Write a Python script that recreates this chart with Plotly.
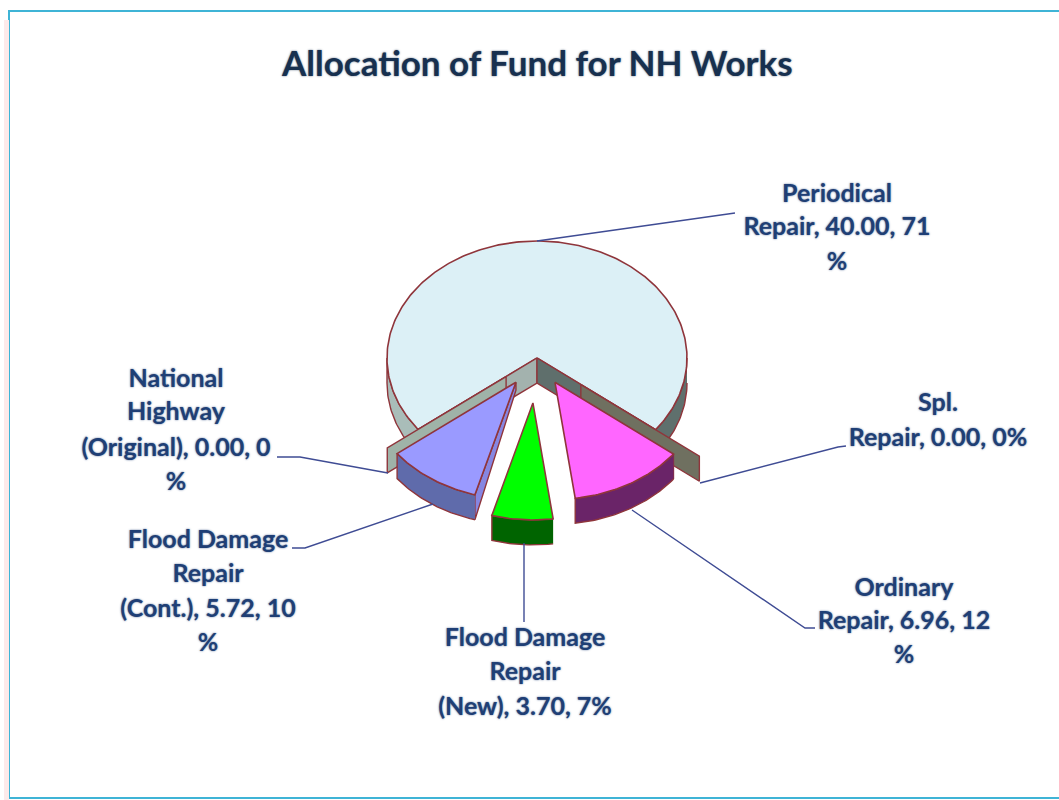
import numpy as np
import plotly.graph_objects as go

# ---- data ----
categories = ["Periodical Repair", "Spl. Repair", "Ordinary Repair",
              "Flood Damage Repair (New)", "Flood Damage Repair (Cont.)",
              "National Highway (Original)"]
values = [40.00, 0.00, 6.96, 3.70, 5.72, 0.00]
percents = ["71%", "0%", "12%", "7%", "10%", "0%"]
explode = [0.0, 0.37, 0.24, 0.385, 0.25, 0.26]
label_lines = [
    ["Periodical", "Repair, 40.00, 71", "%"],
    ["Spl.", "Repair, 0.00, 0%"],
    ["Ordinary", "Repair, 6.96, 12", "%"],
    ["Flood Damage", "Repair", "(New), 3.70, 7%"],
    ["Flood Damage", "Repair", "(Cont.), 5.72, 10", "%"],
    ["National", "Highway", "(Original), 0.00, 0", "%"],
]
title_text = "Allocation of Fund for NH Works"

# ---- layout and style constants (pixels on the hidden axes) ----
CX, CY, RX, RY, DEPTH = 537, 358, 150, 117, 25
START = -127.6
OUTLINE = "#8f353b"
LEADER = "#3f4c94"
TEXT = "#1f3f75"
top_colors = ["#dcf0f6", "#6f7060", "#ff66ff", "#00ff00", "#9a9aff", "#9fb3a8"]
wall_colors = ["#5f706d", "#6f7060", "#6a2468", "#006400", "#5f6bab", "#9fb3a8"]
cut_colors = ["#5f6f6c", "#716f60", "#6a2468", "#006400", "#8686e2", "#9fb3ab"]
label_x = [837, 938, 904, 525, 208, 176]
label_y = [[196, 229, 264], [405, 440], [590, 623, 657], [640, 674, 709],
           [542, 576, 611, 645], [381, 414, 450, 484]]
leaders = [
    [(735, 213), (537, 241)],
    [(846, 446), (838, 447), (700, 483)],
    [(632, 510), (805, 628), (815, 628)],
    [(524, 543), (524, 622)],
    [(433, 504), (305, 548), (292, 548)],
    [(388, 473), (300, 457), (277, 457)],
]

total = sum(values)
spans = [v / total * 360 for v in values]
edges = START + np.concatenate([[0], np.cumsum(spans)])

fig = go.Figure()


def pt(ang, r, off):
    a = np.radians(ang)
    return (CX + off[0] + r * RX * np.sin(a), CY + off[1] - r * RY * np.cos(a))


def offset(i):
    mid = np.radians((edges[i] + edges[i + 1]) / 2)
    return (explode[i] * RX * np.sin(mid), -explode[i] * RY * np.cos(mid))


def poly(xs, ys, color, width=1.4, line=OUTLINE):
    fig.add_trace(go.Scatter(x=list(xs), y=list(ys), mode="lines", fill="toself",
                             fillcolor=color, line=dict(color=line, width=width),
                             hoverinfo="skip", showlegend=False))


def arc(a0, a1, off, dy=0.0):
    angs = np.linspace(a0, a1, max(int(abs(a1 - a0)) + 2, 2))
    p = [pt(a, 1, off) for a in angs]
    return [q[0] for q in p], [q[1] + dy for q in p]


def outer_wall(a0, a1, off, color, line=OUTLINE, width=1.4):
    x1, y1 = arc(a0, a1, off)
    x2, y2 = arc(a1, a0, off, DEPTH)
    poly(x1 + x2, y1 + y2, color, width, line)


def cut_wall(ang, off, color, apex_depth=DEPTH):
    a = pt(ang, 0, off)
    b = pt(ang, 1, off)
    poly([a[0], b[0], b[0], a[0], a[0]],
         [a[1], b[1], b[1] + DEPTH, a[1] + apex_depth, a[1]], color)


def top(i, width=1.6):
    off = offset(i)
    x, y = arc(edges[i], edges[i + 1], off)
    c = pt(0, 0, off)
    poly([c[0]] + x + [c[0]], [c[1]] + y + [c[1]], top_colors[i], width)


# main slice: outer wall, left part light and right part dark, then the cut walls
off0 = offset(0)
outer_wall(edges[0], -90, off0, "#a9bdb9")
outer_wall(90, edges[1], off0, wall_colors[0])
top(0)
cut_wall(edges[0], off0, "#a3b2ae")
cut_wall(edges[1], off0, cut_colors[0])

# zero-valued slices appear as thin walls pushed out along their own edge
for i in (1, 5):
    off = offset(i)
    a = pt(edges[i], 0, off)
    b = pt(edges[i], 1, off)
    poly([a[0], b[0], b[0], a[0], a[0]], [a[1], b[1], b[1] + DEPTH, a[1] + DEPTH, a[1]], top_colors[i])

# exploded slices
off = offset(2)
cut_wall(edges[2], off, cut_colors[2], apex_depth=0)
outer_wall(edges[2], edges[3], off, wall_colors[2])
top(2)

off = offset(3)
outer_wall(edges[3], edges[4], off, wall_colors[3])
top(3)

off = offset(4)
cut_wall(edges[4], off, cut_colors[4], apex_depth=8)
outer_wall(edges[4], edges[5], off, wall_colors[4])
top(4)

# leader lines
for seg in leaders:
    fig.add_trace(go.Scatter(x=[p[0] for p in seg], y=[p[1] for p in seg], mode="lines",
                             line=dict(color=LEADER, width=1.4),
                             hoverinfo="skip", showlegend=False))

# labels, one point per text line
FONT = "Lato, 'Open Sans', sans-serif"
SHADOW = "0px 0px 2px rgba(31,63,117,0.75)"
for lines, lx, ly in zip(label_lines, label_x, label_y):
    fig.add_trace(go.Scatter(x=[lx] * len(lines), y=ly, mode="text", text=lines,
                             textposition="middle center",
                             textfont=dict(family=FONT, size=25, color=TEXT, weight="bold", shadow=SHADOW),
                             hoverinfo="skip", showlegend=False))

fig.update_layout(
    width=1059, height=800, autosize=False,
    margin=dict(l=0, r=0, t=0, b=0),
    paper_bgcolor="white", plot_bgcolor="white",
    showlegend=False,
    xaxis=dict(range=[0, 1059], visible=False, fixedrange=True),
    yaxis=dict(range=[800, 0], visible=False, fixedrange=True),
    annotations=[dict(text=title_text, x=537, y=62, xref="x", yref="y", showarrow=False,
                      font=dict(family=FONT, size=35, color="#17304f", weight="bold",
                                shadow="0px 0px 2px rgba(23,48,79,0.7)"))],
    shapes=[
        dict(type="rect", x0=9, y0=11, x1=1070, y1=798, line=dict(color="#3fb4d6", width=2), layer="below"),
        dict(type="line", x0=6.5, y0=20, x1=6.5, y1=800, line=dict(color="#fdeaea", width=5), layer="below"),
    ],
)

fig.write_html("out.html", post_script="document.body.style.margin='0';document.body.style.overflow='hidden';",
               config={"displayModeBar": False})
